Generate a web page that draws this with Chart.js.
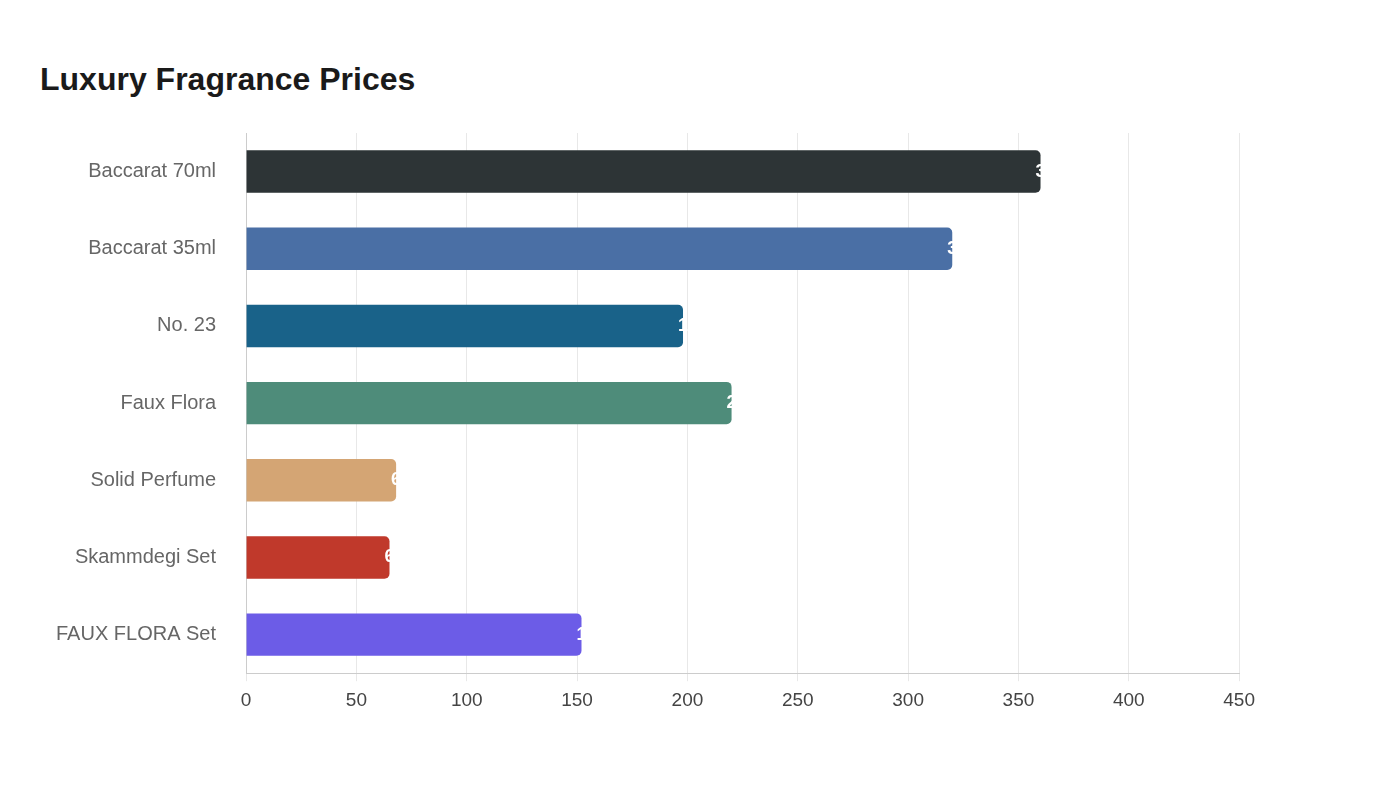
<!DOCTYPE html>
<html>
<head>
<meta charset="utf-8">
<script src="https://cdn.jsdelivr.net/npm/chart.js@4"></script>
<style>
  body { margin: 0; background: #fff; font-family: "Liberation Sans", Arial, sans-serif; }
  #wrap { position: relative; width: 1400px; height: 800px; }
  h1 { position: absolute; left: 40px; top: 61px; margin: 0; font-size: 32px; font-weight: bold; color: #1a1a1a; }
  #box { position: absolute; left: 34px; top: 99px; width: 1229px; height: 621px; }
</style>
</head>
<body>
<div id="wrap">
  <h1>Luxury Fragrance Prices</h1>
  <div id="box"><canvas id="c"></canvas></div>
</div>
<script>
const products = ["Baccarat 70ml", "Baccarat 35ml", "No. 23", "Faux Flora", "Solid Perfume", "Skammdegi Set", "FAUX FLORA Set"];
const prices = [360, 320, 198, 220, 68, 65, 152];
const barColors = ["#2d3436", "#4a6fa5", "#196289", "#4e8c7a", "#d4a574", "#c0392b", "#6c5ce7"];

// white value label starting just inside the bar end
const valueLabels = {
  id: "valueLabels",
  afterDatasetsDraw(chart) {
    const ctx = chart.ctx;
    const meta = chart.getDatasetMeta(0);
    ctx.save();
    ctx.font = "bold 18px 'Liberation Sans', Arial, sans-serif";
    ctx.fillStyle = "#fff";
    ctx.textAlign = "left";
    ctx.textBaseline = "middle";
    meta.data.forEach((bar, i) => {
      ctx.fillText(String(prices[i]), bar.x - 5, bar.y);
    });
    ctx.restore();
  },
};

new Chart(document.getElementById("c").getContext("2d"), {
  type: "bar",
  data: {
    labels: products,
    datasets: [{
      data: prices,
      backgroundColor: barColors,
      borderRadius: 5,
      borderSkipped: "start",
      barPercentage: 0.55,
      categoryPercentage: 1,
    }],
  },
  options: {
    indexAxis: "y",
    responsive: true,
    maintainAspectRatio: false,
    animation: false,
    layout: { padding: { right: 10 } },
    plugins: { legend: { display: false }, tooltip: { enabled: false } },
    scales: {
      x: {
        min: 0, max: 450,
        ticks: { stepSize: 50, color: "#444", font: { size: 19, family: "'Liberation Sans', Arial" }, padding: 8 },
        grid: { color: "#e8e8e8", tickLength: 8 },
        border: { color: "#ccc" },
      },
      y: {
        ticks: { color: "#666", font: { size: 20, family: "'Liberation Sans', Arial" }, padding: 22 },
        grid: { display: false },
        border: { color: "#ccc" },
      },
    },
  },
  plugins: [valueLabels],
});
</script>
</body>
</html>
